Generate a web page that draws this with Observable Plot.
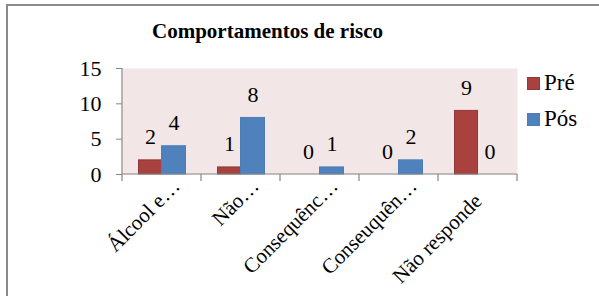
<!DOCTYPE html>
<html>
<head>
<meta charset="utf-8">
<script src="https://cdn.jsdelivr.net/npm/d3@7"></script>
<script src="https://cdn.jsdelivr.net/npm/@observablehq/plot@0.6"></script>
</head>
<body style="margin:0;padding:0;background:#fff;font-family:'Liberation Serif'">
<div id="wrap" style="position:relative;width:599px;height:296px;overflow:hidden;background:#fff;font-family:'Liberation Serif'">
  <div style="position:absolute;left:6px;top:4px;width:700px;height:400px;border:2px solid #8a8a8a;box-sizing:border-box"></div>
  <div id="chart" style="position:absolute;left:0;top:0"></div>
  <div style="position:absolute;left:0;top:21px;width:535px;text-align:center;font-family:'Liberation Serif';font-weight:bold;font-size:21px;line-height:21px;color:#000">Comportamentos de risco</div>
  <div id="legend"></div>
</div>
<script>
// ---- data ----
const categories = ["Álcool e…", "Não…", "Consequênc…", "Conseuquên…", "Não responde"];
const seriesNames = ["Pré", "Pós"];
const preValues = [2, 1, 0, 0, 9];
const posValues = [4, 8, 1, 2, 0];
const yTicks = [0, 5, 10, 15];

// ---- styles ----
const FONT = "Liberation Serif";
const fills = {"Pré": "#A9413F", "Pós": "#4F81BD"};
const strokes = {"Pré": "#8B3A38", "Pós": "#4A7EBB"};
const W = 599, H = 296, mL = 122, mR = 82, mT = 68, mB = 122;
const bw = (W - mL - mR) / categories.length;
const axisColor = "#868686";

const preData = categories.map((c, i) => ({cat: c, series: "Pré", value: preValues[i]}));
const posData = categories.map((c, i) => ({cat: c, series: "Pós", value: posValues[i]}));

function excelAxes(index, scales, values, dimensions) {
  const x = scales.x, y = scales.y;
  const g = d3.create("svg:g").attr("stroke", axisColor).attr("stroke-width", 1.2).attr("fill", "none");
  const y0 = y(0), yTop = y(d3.max(yTicks));
  const xs = categories.map(c => x(c));
  const xEnd = x(categories[categories.length - 1]) + bw;
  g.append("line").attr("x1", xs[0]).attr("x2", xs[0]).attr("y1", yTop).attr("y2", y0);
  g.append("line").attr("x1", xs[0]).attr("x2", xEnd).attr("y1", y0).attr("y2", y0);
  [...xs, xEnd].forEach(xv => {
    g.append("line").attr("x1", xv).attr("x2", xv).attr("y1", y0).attr("y2", y0 + 7);
  });
  return g.node();
}

const textFont = 22;
const chart = Plot.plot({
  width: W, height: H,
  marginLeft: mL, marginRight: mR, marginTop: mT, marginBottom: mB,
  style: {fontFamily: FONT, background: "transparent", color: "#000"},
  x: {type: "band", domain: categories, padding: 0, axis: null},
  y: {domain: [0, 15]},
  marks: [
    Plot.frame({fill: "#F2E6E6", stroke: "none"}),
    Plot.barY(preData.filter(d => d.value > 0), {x: "cat", y: "value", fill: fills["Pré"], stroke: strokes["Pré"], insetLeft: 16.5, insetRight: bw - 39.5}),
    Plot.barY(posData.filter(d => d.value > 0), {x: "cat", y: "value", fill: fills["Pós"], stroke: strokes["Pós"], insetLeft: 39.5, insetRight: bw - 63.5}),
    excelAxes,
    Plot.axisY({ticks: yTicks, tickSize: 6, tickPadding: 15, fontSize: textFont, fontFamily: FONT, stroke: axisColor, fill: "#000", label: null}),
    Plot.text(preData, {x: "cat", y: "value", text: d => String(d.value), dx: -11.5, dy: -16, lineAnchor: "bottom", fontSize: textFont, fontFamily: FONT, fill: "#000"}),
    Plot.text(posData, {x: "cat", y: "value", text: d => String(d.value), dx: 12, dy: -16, lineAnchor: "bottom", fontSize: textFont, fontFamily: FONT, fill: "#000"}),
    Plot.text(categories.filter(c => c.endsWith("…")), {x: d => d, frameAnchor: "bottom", text: d => d, rotate: -45, textAnchor: "end", lineAnchor: "bottom", dx: 19, dy: 13, fontSize: 21, fontFamily: FONT, fill: "#000"}),
    Plot.text(categories.filter(c => !c.endsWith("…")), {x: d => d, frameAnchor: "bottom", text: d => d, rotate: -45, textAnchor: "end", lineAnchor: "bottom", dx: 5, dy: 28, fontSize: 21, fontFamily: FONT, fill: "#000"})
  ]
});
chart.querySelectorAll("text").forEach(t => t.style.fontFamily = FONT);
document.getElementById("chart").appendChild(chart);

// legend
const legend = document.getElementById("legend");
const legendTops = [77, 113];
seriesNames.forEach((s, i) => {
  const sw = document.createElement("div");
  sw.style.cssText = `position:absolute;left:527px;top:${legendTops[i]}px;width:13px;height:13px;box-sizing:border-box;background:${fills[s]};border:1px solid ${strokes[s]}`;
  legend.appendChild(sw);
  const t = document.createElement("div");
  t.style.cssText = `position:absolute;left:544px;top:${legendTops[i] - 6}px;font-family:'${FONT}';font-size:23px;line-height:23px;color:#000;white-space:nowrap`;
  t.textContent = s;
  legend.appendChild(t);
});
</script>
</body>
</html>
